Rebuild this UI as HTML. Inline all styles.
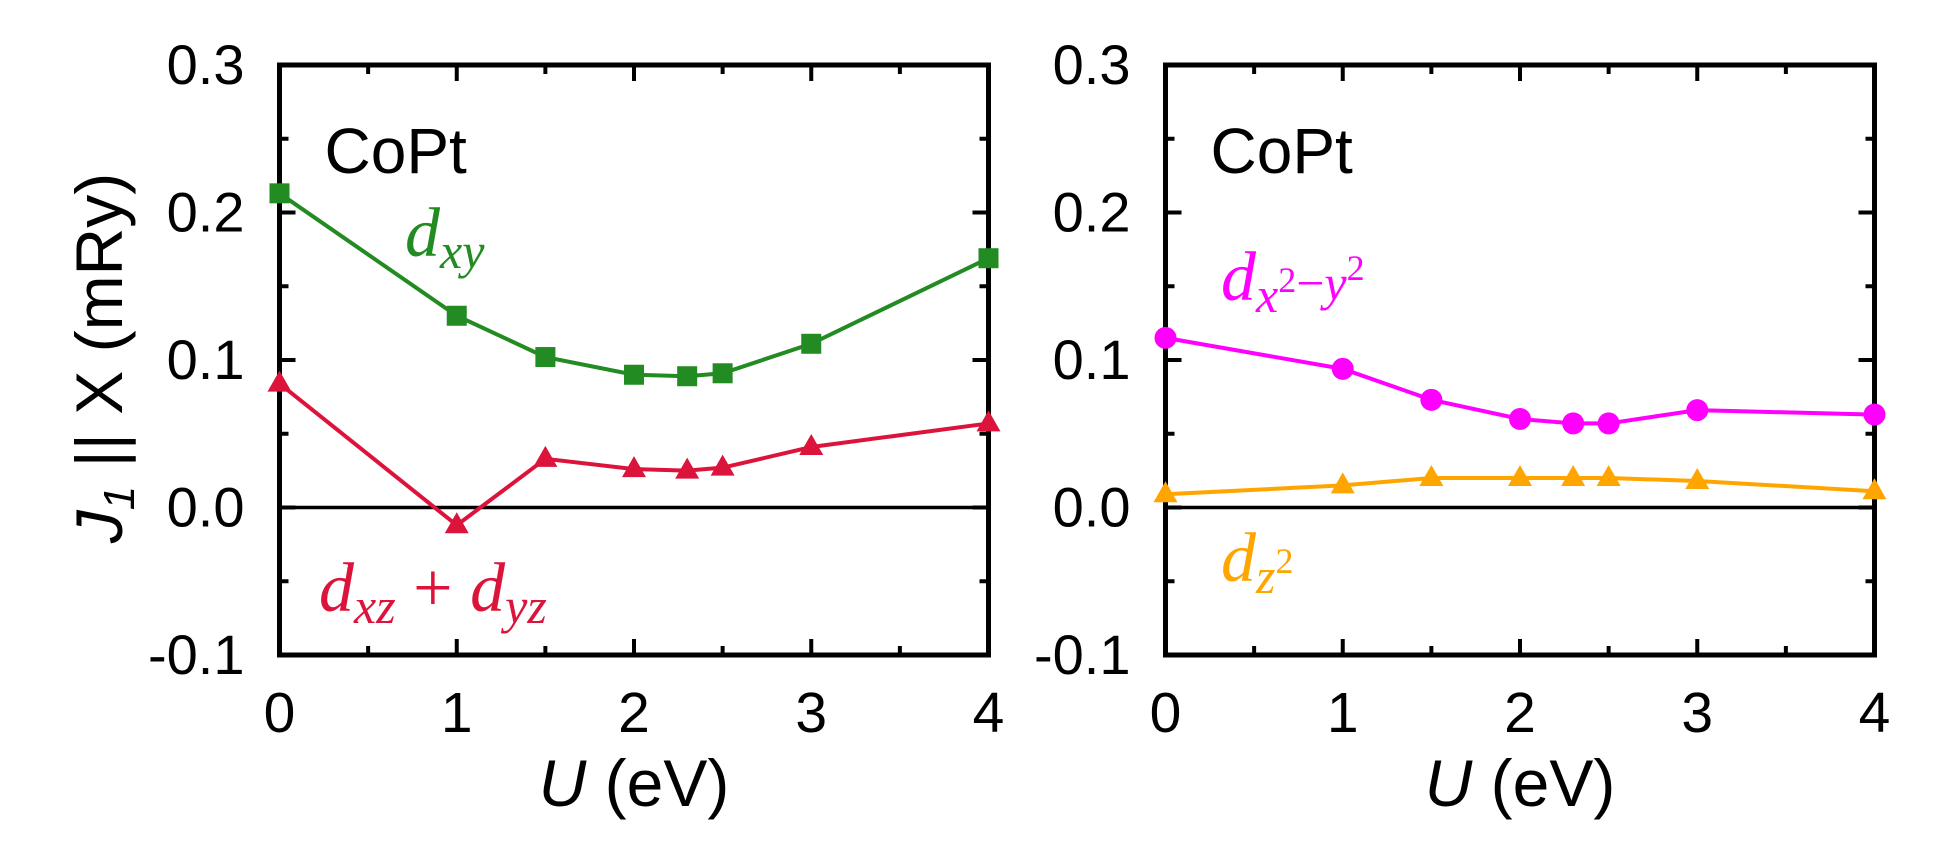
<!DOCTYPE html>
<html><head><meta charset="utf-8"><style>
body{margin:0;background:#fff}
svg text{font-family:"Liberation Sans",sans-serif}
.m{font-family:"Liberation Serif",serif;font-style:italic}
</style></head><body>
<svg id="chart" width="1938" height="863" viewBox="0 0 1938 863" xmlns="http://www.w3.org/2000/svg"></svg>
<script>
const uValues = [0, 1, 1.5, 2, 2.3, 2.5, 3, 4];
const dxy = [0.213, 0.130, 0.102, 0.090, 0.089, 0.091, 0.111, 0.169];
const dxzdyz = [0.084, -0.012, 0.033, 0.026, 0.025, 0.027, 0.041, 0.057];
const dx2y2 = [0.115, 0.094, 0.073, 0.060, 0.057, 0.057, 0.066, 0.063];
const dz2 = [0.009, 0.015, 0.020, 0.020, 0.020, 0.020, 0.018, 0.011];
const yTicks = ["-0.1", "0.0", "0.1", "0.2", "0.3"];
const xTicks = ["0", "1", "2", "3", "4"];

const NS = "http://www.w3.org/2000/svg";
const svgEl = document.getElementById('chart');
function mk(tag, attrs, parent, text){
  const e = document.createElementNS(NS, tag);
  for (const k in attrs) e.setAttribute(k, attrs[k]);
  if (text !== undefined) e.textContent = text;
  (parent || svgEl).appendChild(e);
  return e;
}
const yTop = 65, yBot = 655, W = 709;
function panel(x0, name){
  const g = mk('g', {});
  
  
  const xs = u => x0 + u / 4 * W;
  const ys = v => yBot - (v + 0.1) / 0.4 * (yBot - yTop);
  for (let i = 0; i <= 8; i++){
    const v = -0.1 + i * 0.05, y = ys(v), L = i % 2 === 0 ? 16 : 9;
    mk('line', {x1: x0, x2: x0 + L, y1: y, y2: y, stroke: '#000', 'stroke-width': 4}, g);
    mk('line', {x1: x0 + W, x2: x0 + W - L, y1: y, y2: y, stroke: '#000', 'stroke-width': 4}, g);
  }
  for (let i = 0; i <= 8; i++){
    const x = xs(i * 0.5), L = i % 2 === 0 ? 16 : 9;
    mk('line', {x1: x, x2: x, y1: yBot, y2: yBot - L, stroke: '#000', 'stroke-width': 4}, g);
    mk('line', {x1: x, x2: x, y1: yTop, y2: yTop + L, stroke: '#000', 'stroke-width': 4}, g);
  }
  yTicks.forEach((t, i) => {
    const tl = mk('text', {x: x0 - 35, y: ys(-0.1 + i * 0.1) + 19, 'text-anchor': 'end', 'font-size': 56}, g, t);
    
    
  });
  xTicks.forEach((t, i) => {
    const tl = mk('text', {x: xs(i), y: 732, 'text-anchor': 'middle', 'font-size': 57}, g, t);
    
    
  });
  mk('line', {x1: x0, x2: x0 + W, y1: ys(0), y2: ys(0), stroke: '#000', 'stroke-width': 3.5}, g);
  mk('rect', {x: x0, y: yTop, width: W, height: yBot - yTop, fill: 'none', stroke: '#000', 'stroke-width': 5}, g);
  const xt = mk('text', {x: x0 + W / 2, y: 806, 'text-anchor': 'middle', 'font-size': 66}, g);
  
  
  mk('tspan', {'font-style': 'italic'}, xt, 'U');
  mk('tspan', {}, xt, ' (eV)');
  const lab = mk('text', {x: x0 + 45, y: 173, 'font-size': 64}, g, 'CoPt');
  
  
  return {g, xs, ys};
}
function series(p, vals, color, marker, name){
  const g = mk('g', {}, p.g);
  
  
  const pts = uValues.map((u, i) => p.xs(u) + ',' + p.ys(vals[i])).join(' ');
  mk('polyline', {points: pts, fill: 'none', stroke: color, 'stroke-width': 4}, g);
  uValues.forEach((u, i) => {
    const x = p.xs(u), y = p.ys(vals[i]);
    let m;
    if (marker === 'square') m = mk('rect', {x: x - 10, y: y - 10, width: 20, height: 20, fill: color}, g);
    else if (marker === 'circle') m = mk('circle', {cx: x, cy: y, r: 11, fill: color}, g);
    else m = mk('polygon', {points: `${x},${y - 13} ${x - 12},${y + 8} ${x + 12},${y + 8}`, fill: color}, g);
    
    
  });
}
const LP = panel(279.5, 'left-panel');
const RP = panel(1165.5, 'right-panel');
series(LP, dxy, '#228b22', 'square', 'dxy-series');
series(LP, dxzdyz, '#dc143c', 'triangle', 'dxz-dyz-series');
series(RP, dx2y2, '#ff00ff', 'circle', 'dx2-y2-series');
series(RP, dz2, '#ffa500', 'triangle', 'dz2-series');

function mathLabel(x, y, color, parts, name){
  const t = mk('text', {x, y, fill: color, 'font-size': 70, class: 'm'});
  
  
  parts.forEach(p => mk('tspan', p.a || {}, t, p.s));
}
mathLabel(405, 256, '#228b22', [{s: 'd'}, {s: 'xy', a: {'font-size': 50, dy: 12}}], 'dxy-label');
mathLabel(319, 611, '#dc143c', [{s: 'd'}, {s: 'xz', a: {'font-size': 50, dy: 12}}, {s: ' + ', a: {'font-style': 'normal', dy: -12}}, {s: 'd'}, {s: 'yz', a: {'font-size': 50, dy: 12}}], 'dxz-dyz-label');
mathLabel(1221, 300, '#ff00ff', [{s: 'd'}, {s: 'x', a: {'font-size': 50, dy: 12}}, {s: '2', a: {'font-size': 36, dy: -20, 'font-style': 'normal'}}, {s: '−', a: {'font-size': 50, dy: 8, 'font-style': 'normal'}}, {s: 'y', a: {'font-size': 50}}, {s: '2', a: {'font-size': 36, dy: -20, 'font-style': 'normal'}}], 'dx2-y2-label');
mathLabel(1221, 581, '#ffa500', [{s: 'd'}, {s: 'z', a: {'font-size': 50, dy: 12}}, {s: '2', a: {'font-size': 36, dy: -20, 'font-style': 'normal'}}], 'dz2-label');

const yt = mk('text', {transform: 'translate(122,358) rotate(-90)', 'text-anchor': 'middle', 'font-size': 66});


mk('tspan', {'font-style': 'italic'}, yt, 'J');
mk('tspan', {'font-style': 'italic', 'font-size': 44, dy: 12}, yt, '1');
mk('tspan', {dy: -12}, yt, ' || X (mRy)');
</script>
</body></html>
